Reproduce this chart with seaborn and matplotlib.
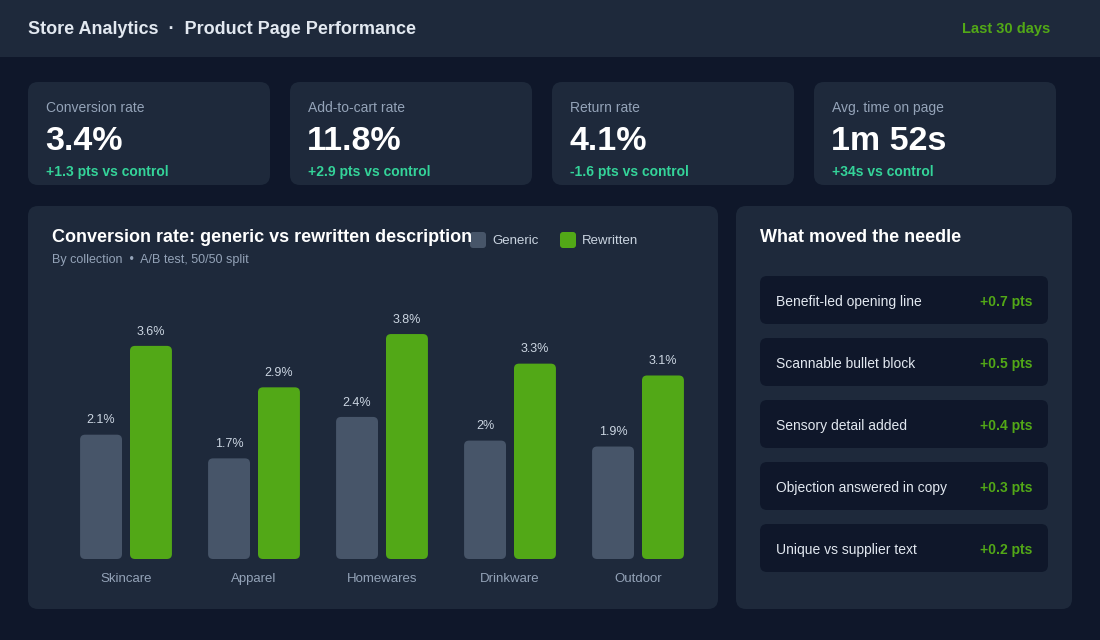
import pandas as pd
import numpy as np
import matplotlib.pyplot as plt
import seaborn as sns
from matplotlib.patches import FancyBboxPatch

# data
collections = ["Skincare", "Apparel", "Homewares", "Drinkware", "Outdoor"]
generic = [2.1, 1.7, 2.4, 2.0, 1.9]
rewritten = [3.6, 2.9, 3.8, 3.3, 3.1]
series_names = ["Generic", "Rewritten"]

kpi_labels = ["Conversion rate", "Add-to-cart rate", "Return rate", "Avg. time on page"]
kpi_values = ["3.4%", "11.8%", "4.1%", "1m 52s"]
kpi_deltas = ["+1.3 pts vs control", "+2.9 pts vs control", "-1.6 pts vs control", "+34s vs control"]

drivers = ["Benefit-led opening line", "Scannable bullet block", "Sensory detail added",
           "Objection answered in copy", "Unique vs supplier text"]
driver_lifts = ["+0.7 pts", "+0.5 pts", "+0.4 pts", "+0.3 pts", "+0.2 pts"]

# colours
PAGE = "#0f172a"
CARD = "#1e293b"
GREY_BAR = "#475569"
GREEN = "#52a817"
TEAL = "#34d399"
TEXT = "#e2e8f0"
MUTED = "#94a3b8"

sns.set_theme(style="dark")
plt.rcParams['font.family'] = ['Liberation Sans', 'DejaVu Sans']

fig = plt.figure(figsize=(11, 6.4), dpi=100, facecolor=PAGE)

# background layer in pixel coordinates
bg = fig.add_axes([0, 0, 1, 1], zorder=0)
bg.set_xlim(0, 1100)
bg.set_ylim(640, 0)
bg.axis("off")


def card(x0, y0, x1, y1, color, r=10):
    bg.add_patch(FancyBboxPatch((x0, y0), x1 - x0, y1 - y0,
                                boxstyle=f"round,pad=0,rounding_size={r}",
                                fc=color, ec="none", lw=0))


# header
bg.add_patch(plt.Rectangle((0, 0), 1100, 57, fc=CARD, ec="none"))
bg.text(28, 29, "Store Analytics  \u00b7  Product Page Performance", color=TEXT,
        fontsize=13, fontweight="bold", va="center", ha="left")
bg.text(1050, 29, "Last 30 days", color=GREEN, fontsize=10.5, fontweight="bold",
        va="center", ha="right")

# KPI cards
kpi_x = [28, 290, 552, 814]
for x0, lab, val, dlt in zip(kpi_x, kpi_labels, kpi_values, kpi_deltas):
    card(x0, 82, x0 + 242, 185, CARD)
    bg.text(x0 + 18, 108, lab, color=MUTED, fontsize=10, va="center")
    bg.text(x0 + 17, 141, val, color="white", fontsize=24.5, fontweight="bold", va="center")
    bg.text(x0 + 18, 172, dlt, color=TEAL, fontsize=10, fontweight="bold", va="center")

# chart card
card(28, 206, 718, 609, CARD)
bg.text(52, 237, "Conversion rate: generic vs rewritten description", color="white",
        fontsize=13, fontweight="bold", va="center")
bg.text(52, 260, "By collection  \u2022  A/B test, 50/50 split", color=MUTED,
        fontsize=9, va="center")

# legend
for lx, name, col in zip([470, 560], series_names, [GREY_BAR, GREEN]):
    card(lx, 232, lx + 16, 248, col, r=3)
    bg.text(lx + 22, 241, name, color="#cbd5e1", fontsize=9.5, va="center")

# right card
card(736, 206, 1072, 609, CARD)
bg.text(760, 237, "What moved the needle", color="white", fontsize=13,
        fontweight="bold", va="center")
for i, (d, v) in enumerate(zip(drivers, driver_lifts)):
    y0 = 276 + i * 62
    card(760, y0, 1048, y0 + 48, PAGE, r=7)
    bg.text(776, y0 + 26, d, color=TEXT, fontsize=10, va="center")
    bg.text(1032, y0 + 26, v, color=GREEN, fontsize=10, fontweight="bold",
            va="center", ha="right")

# bar chart
df = pd.DataFrame({
    "collection": collections * 2,
    "variant": [series_names[0]] * len(collections) + [series_names[1]] * len(collections),
    "rate": generic + rewritten,
})

ax = fig.add_axes([62 / 1100, (640 - 559) / 640, 640 / 1100, (559 - 290) / 640], zorder=1)
ax.patch.set_alpha(0)
sns.barplot(data=df, x="collection", y="rate", hue="variant", order=collections,
            hue_order=series_names, palette=[GREY_BAR, GREEN], width=0.78, gap=0.16,
            saturation=1, legend=False, ax=ax)
ax.set_xlim(-0.5, 4.5)
ax.set_ylim(0, 4.544)

# rounded bars
x_px = 128.0
y_px = 59.2
r = 5 / x_px
for cont in ax.containers:
    for p in cont.patches:
        p.set_visible(False)
        ax.add_patch(FancyBboxPatch((p.get_x(), 0), p.get_width(), p.get_height(),
                                    boxstyle=f"round,pad=0,rounding_size={r}",
                                    mutation_aspect=x_px / y_px,
                                    fc=p.get_facecolor(), ec="none", lw=0))
    ax.bar_label(cont, labels=[f"{v:g}%" for v in cont.datavalues], padding=6,
                 color="#cbd5e1", fontsize=9)

ax.set_xlabel("")
ax.set_ylabel("")
ax.set_yticks([])
ax.tick_params(axis="x", length=0, pad=10, colors=MUTED, labelsize=9.5)
ax.grid(False)
for s in ax.spines.values():
    s.set_visible(False)

fig.savefig("out.png", dpi=100, facecolor=PAGE)
